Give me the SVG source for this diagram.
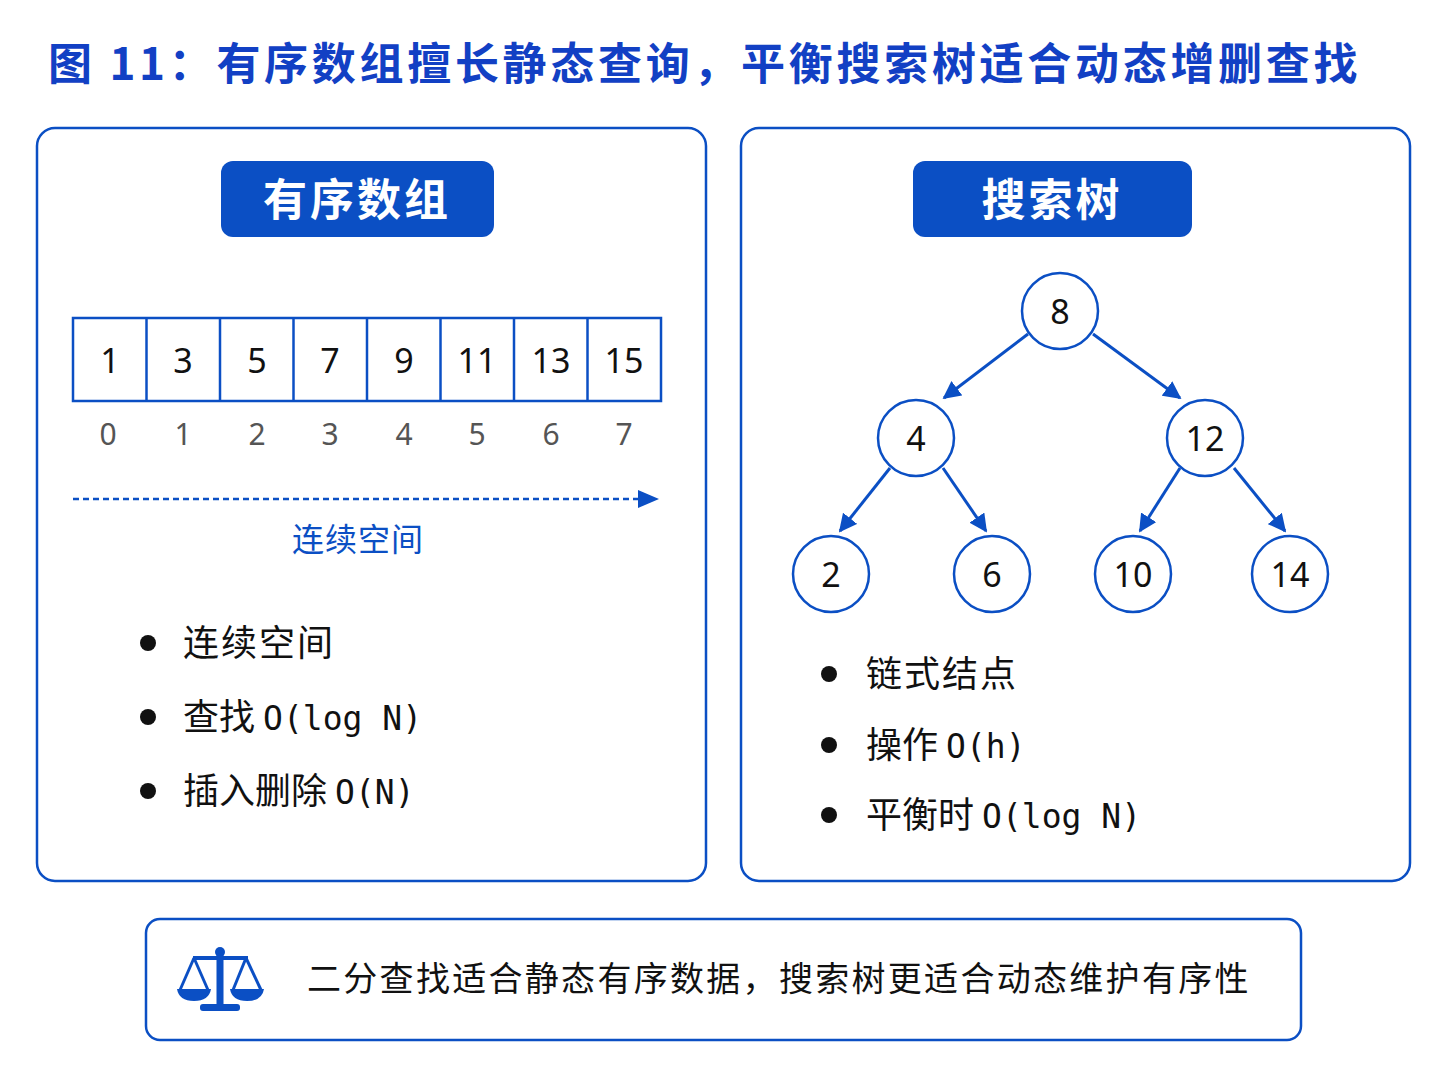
<svg xmlns="http://www.w3.org/2000/svg" width="1448" height="1086" viewBox="0 0 1448 1086">
<style>
.cjk{font-family:"Noto Sans CJK SC","Noto Sans",sans-serif}
.panel{fill:#fff;stroke:#0b4fc4;stroke-width:2.5}
.lab{fill:#0b4fc4}
.labt{font-family:"Noto Sans CJK SC",sans-serif;font-weight:bold;font-size:44px;fill:#fff;text-anchor:middle}
.cell{fill:#fff;stroke:#0b4fc4;stroke-width:2.5}
.num{font-family:"Noto Sans","Noto Sans CJK SC",sans-serif;font-size:34px;fill:#111;text-anchor:middle}
.idx{font-family:"Noto Sans",sans-serif;font-size:30px;fill:#555;text-anchor:middle}
.bul{font-family:"Noto Sans CJK SC",sans-serif;font-size:36px;fill:#111}
.mono{font-family:"DejaVu Sans Mono",monospace;font-size:33px}
.node{fill:#fff;stroke:#0b4fc4;stroke-width:2.5}
.edge{stroke:#0b4fc4;stroke-width:3;fill:none;marker-end:url(#ah)}
</style>
<defs>
<marker id="ah" viewBox="0 0 10 10" refX="9" refY="5" markerWidth="6" markerHeight="6" orient="auto" markerUnits="strokeWidth"><path d="M0,0L10,5L0,10z" fill="#0b4fc4"/></marker>
</defs>
<rect width="1448" height="1086" fill="#fff"/>
<text x="48" y="80" class="cjk" font-size="44" font-weight="bold" fill="#1240c4" letter-spacing="3.7">图 11：有序数组擅长静态查询，平衡搜索树适合动态增删查找</text>

<g id="left-panel">
<rect class="panel" x="37" y="128" width="669" height="753" rx="18"/>
<rect class="lab" x="221" y="161" width="273" height="76" rx="12"/>
<text class="labt" x="357" y="216" letter-spacing="3">有序数组</text>
</g>
<g id="array">
<rect class="cell" x="73" y="318" width="588" height="83"/>
<g stroke="#0b4fc4" stroke-width="2.5">
<line x1="146.5" y1="318" x2="146.5" y2="401"/><line x1="220" y1="318" x2="220" y2="401"/><line x1="293.5" y1="318" x2="293.5" y2="401"/><line x1="367" y1="318" x2="367" y2="401"/><line x1="440.5" y1="318" x2="440.5" y2="401"/><line x1="514" y1="318" x2="514" y2="401"/><line x1="587.5" y1="318" x2="587.5" y2="401"/>
</g>
<text class="num" x="110" y="373">1</text><text class="num" x="183" y="373">3</text><text class="num" x="257" y="373">5</text><text class="num" x="330" y="373">7</text><text class="num" x="404" y="373">9</text><text class="num" x="477" y="373">11</text><text class="num" x="551" y="373">13</text><text class="num" x="624" y="373">15</text>
<text class="idx" x="108" y="445">0</text><text class="idx" x="183" y="445">1</text><text class="idx" x="257" y="445">2</text><text class="idx" x="330" y="445">3</text><text class="idx" x="404" y="445">4</text><text class="idx" x="477" y="445">5</text><text class="idx" x="551" y="445">6</text><text class="idx" x="624" y="445">7</text>
</g>
<g id="span">
<line x1="73" y1="499" x2="640" y2="499" stroke="#0b4fc4" stroke-width="2.5" stroke-dasharray="6,4"/>
<path d="M638,490L659,499L638,508z" fill="#0b4fc4"/>
<text x="358" y="551" class="cjk" font-size="32" fill="#0b4fc4" text-anchor="middle" letter-spacing="1">连续空间</text>
</g>
<g id="left-bullets">
<circle cx="148" cy="643" r="8" fill="#111"/><text class="bul" x="183" y="656" letter-spacing="2">连续空间</text>
<circle cx="148" cy="717" r="8" fill="#111"/><text class="bul" x="183" y="730">查找 <tspan class="mono">O(log N)</tspan></text>
<circle cx="148" cy="791" r="8" fill="#111"/><text class="bul" x="183" y="804">插入删除 <tspan class="mono">O(N)</tspan></text>
</g>

<g id="right-panel">
<rect class="panel" x="741" y="128" width="669" height="753" rx="18"/>
<rect class="lab" x="913" y="161" width="279" height="76" rx="12"/>
<text class="labt" x="1052" y="216" letter-spacing="3">搜索树</text>
</g>
<g id="connectors">
<line class="edge" x1="1028" y1="334" x2="944" y2="398"/>
<line class="edge" x1="1093" y1="334" x2="1180" y2="398"/>
<line class="edge" x1="890" y1="468" x2="840" y2="531"/>
<line class="edge" x1="943" y1="468" x2="986" y2="531"/>
<line class="edge" x1="1180" y1="468" x2="1140" y2="531"/>
<line class="edge" x1="1234" y1="468" x2="1285" y2="531"/>
</g>
<g id="n8"><circle class="node" cx="1060" cy="311" r="38"/><text class="num" x="1060" y="324">8</text></g>
<g id="n4"><circle class="node" cx="916" cy="438" r="38"/><text class="num" x="916" y="451">4</text></g>
<g id="n12"><circle class="node" cx="1205" cy="438" r="38"/><text class="num" x="1205" y="451">12</text></g>
<g id="n2"><circle class="node" cx="831" cy="574" r="38"/><text class="num" x="831" y="587">2</text></g>
<g id="n6"><circle class="node" cx="992" cy="574" r="38"/><text class="num" x="992" y="587">6</text></g>
<g id="n10"><circle class="node" cx="1133" cy="574" r="38"/><text class="num" x="1133" y="587">10</text></g>
<g id="n14"><circle class="node" cx="1290" cy="574" r="38"/><text class="num" x="1290" y="587">14</text></g>
<g id="right-bullets">
<circle cx="829" cy="674" r="8" fill="#111"/><text class="bul" x="866" y="687" letter-spacing="2">链式结点</text>
<circle cx="829" cy="745" r="8" fill="#111"/><text class="bul" x="866" y="758">操作 <tspan class="mono">O(h)</tspan></text>
<circle cx="829" cy="815" r="8" fill="#111"/><text class="bul" x="866" y="828">平衡时 <tspan class="mono">O(log N)</tspan></text>
</g>

<g id="summary">
<rect class="panel" x="146" y="919" width="1155" height="121" rx="14"/>
<g fill="#0b4fc4" stroke="#0b4fc4">
<circle cx="220" cy="952" r="5" stroke="none"/>
<rect x="216.5" y="952" width="7" height="54" stroke="none"/>
<line x1="193" y1="958" x2="248" y2="958" stroke-width="4"/>
<line x1="194" y1="958" x2="180" y2="990" stroke-width="3" fill="none"/>
<line x1="194" y1="958" x2="208" y2="990" stroke-width="3" fill="none"/>
<line x1="246" y1="958" x2="233" y2="990" stroke-width="3" fill="none"/>
<line x1="246" y1="958" x2="261" y2="990" stroke-width="3" fill="none"/>
<path d="M177,989H211Q209,1001 194,1001Q179,1001 177,989z" stroke="none"/>
<path d="M230,989H264Q262,1001 247,1001Q232,1001 230,989z" stroke="none"/>
<rect x="200" y="1004" width="40" height="7" rx="3" stroke="none"/>
</g>
<text x="307" y="991" class="cjk" font-size="34" fill="#111" letter-spacing="2.3">二分查找适合静态有序数据，搜索树更适合动态维护有序性</text>
</g>
</svg>
